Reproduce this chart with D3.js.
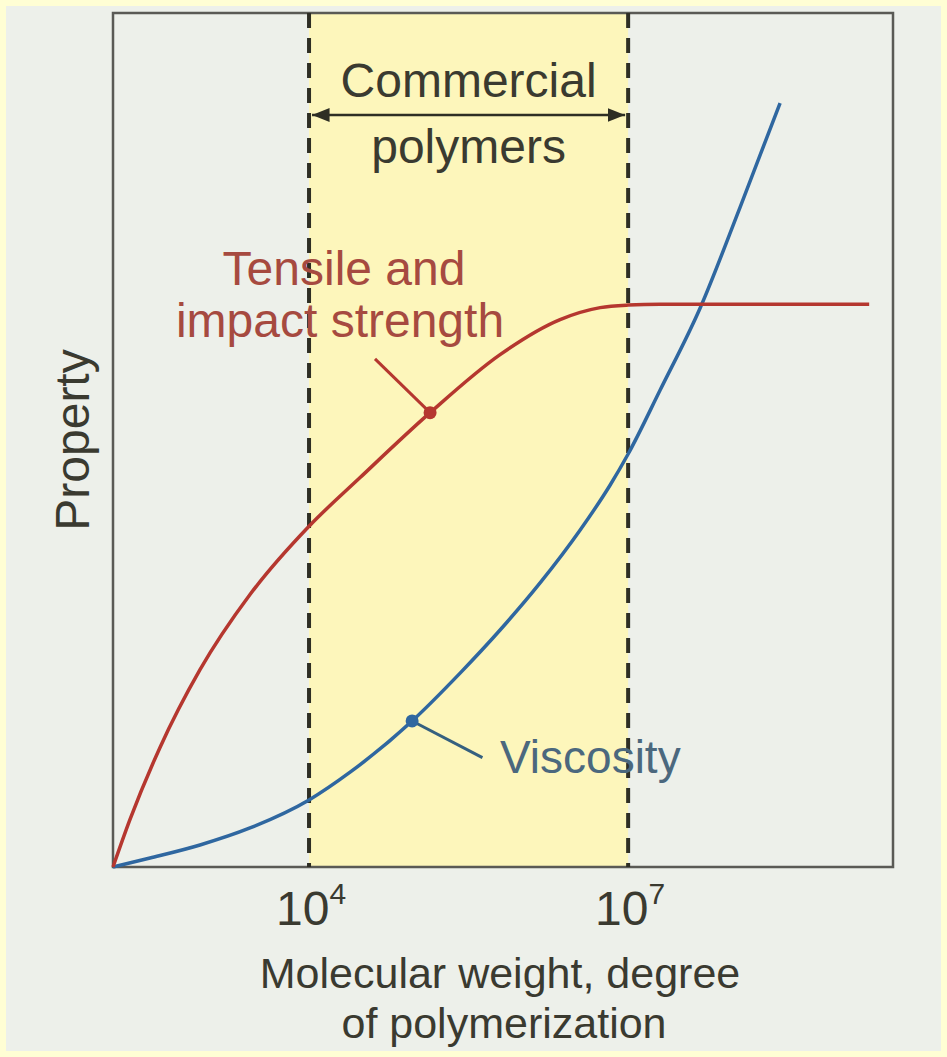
<!DOCTYPE html>
<html>
<head>
<meta charset="utf-8">
<script src="https://cdn.jsdelivr.net/npm/d3@7"></script>
<style>
  html, body { margin: 0; padding: 0; background: #fffed4; }
  svg { display: block; }
  text { font-family: "Liberation Sans", Arial, Helvetica, sans-serif; }
</style>
</head>
<body>
<script>
// ---- data (x in log10 of molecular weight, y in arbitrary property units 0-100) ----
const strengthLogMW = [2.157, 2.317, 2.599, 2.975, 3.445, 4.0, 4.48, 5.138, 5.796, 6.36, 6.737, 7.0, 7.3, 9.266];
const strengthValue = [0, 5.57, 14.0, 23.1, 31.9, 39.9, 45.6, 53.2, 60.0, 64.1, 65.5, 65.8, 65.9, 65.9];

const viscosityLogMW = [2.157, 2.505, 2.975, 3.445, 4.0, 4.386, 4.978, 5.42, 5.796, 6.172, 6.549, 6.831, 7.0, 7.301, 7.677, 8.053, 8.429];
const viscosityValue = [0, 1.05, 2.58, 4.57, 7.85, 11.1, 17.2, 22.7, 27.75, 33.26, 39.46, 44.73, 48.36, 55.85, 65.46, 77.28, 89.46];

const tickExponents = [4, 7];
const tickLabels = ["10", "10"];
const commercialRange = [4, 7];

const xDomain = [2.157, 9.49];
const yDomain = [0, 100];

// annotation markers (data units)
const strengthMarker = { x: 5.138, y: 53.2, labelX: 4.62, labelY: 59.5 };
const viscosityMarker = { x: 4.969, y: 17.1, labelX: 5.63, labelY: 12.8 };

// ---- layout ----
const W = 947, H = 1057;
const plot = { left: 113, right: 893, top: 13, bottom: 867 };

const svg = d3.select("body").append("svg").attr("width", W).attr("height", H);

svg.append("rect").attr("x", 0).attr("y", 0).attr("width", W).attr("height", H).attr("fill", "#fffed4");
svg.append("rect").attr("x", 6).attr("y", 6).attr("width", W - 12).attr("height", H - 12).attr("fill", "#edf0ea");

const x = d3.scaleLinear().domain(xDomain).range([plot.left, plot.right]);
const y = d3.scaleLinear().domain(yDomain).range([plot.bottom, plot.top]);

// commercial band
svg.append("rect")
  .attr("x", x(commercialRange[0])).attr("y", plot.top)
  .attr("width", x(commercialRange[1]) - x(commercialRange[0]))
  .attr("height", plot.bottom - plot.top)
  .attr("fill", "#fdf6bb");

// frame
svg.append("rect")
  .attr("x", plot.left).attr("y", plot.top)
  .attr("width", plot.right - plot.left).attr("height", plot.bottom - plot.top)
  .attr("fill", "none").attr("stroke", "#5a5a55").attr("stroke-width", 2.5);

// dashed boundaries
svg.selectAll("line.bound").data(commercialRange).enter().append("line")
  .attr("class", "bound")
  .attr("x1", d => x(d)).attr("x2", d => x(d))
  .attr("y1", plot.top).attr("y2", plot.bottom)
  .attr("stroke", "#2e2e24").attr("stroke-width", 4)
  .attr("stroke-dasharray", "15,10");

// arrow
const defs = svg.append("defs");
defs.append("marker").attr("id", "ah").attr("viewBox", "0 0 10 10")
  .attr("refX", 10).attr("refY", 5).attr("markerWidth", 7).attr("markerHeight", 7)
  .attr("markerUnits", "strokeWidth").attr("orient", "auto-start-reverse")
  .append("path").attr("d", "M0,1 L10,5 L0,9 Z").attr("fill", "#2e2e24");
svg.append("line")
  .attr("x1", x(commercialRange[0]) + 3).attr("x2", x(commercialRange[1]) - 3)
  .attr("y1", 115).attr("y2", 115)
  .attr("stroke", "#2e2e24").attr("stroke-width", 2.5)
  .attr("marker-start", "url(#ah)").attr("marker-end", "url(#ah)");

const fs = 48;
const darkText = "#3a3a30";
svg.append("text").attr("x", (x(4) + x(7)) / 2).attr("y", 97).attr("text-anchor", "middle")
  .attr("font-size", fs).attr("fill", darkText).text("Commercial");
svg.append("text").attr("x", (x(4) + x(7)) / 2).attr("y", 163).attr("text-anchor", "middle")
  .attr("font-size", fs).attr("fill", darkText).text("polymers");

// curves
const line = d3.line().x(d => x(d[0])).y(d => y(d[1])).curve(d3.curveMonotoneX);
const strength = strengthLogMW.map((v, i) => [v, strengthValue[i]]);
const viscosity = viscosityLogMW.map((v, i) => [v, viscosityValue[i]]);

const redC = "#b5372f", blueC = "#2f67a0";
svg.append("path").attr("d", line(viscosity)).attr("fill", "none")
  .attr("stroke", blueC).attr("stroke-width", 3.5);
svg.append("path").attr("d", line(strength)).attr("fill", "none")
  .attr("stroke", redC).attr("stroke-width", 3.5);

// markers & leaders
svg.append("line").attr("x1", x(strengthMarker.labelX)).attr("y1", y(strengthMarker.labelY))
  .attr("x2", x(strengthMarker.x)).attr("y2", y(strengthMarker.y))
  .attr("stroke", redC).attr("stroke-width", 3);
svg.append("circle").attr("cx", x(strengthMarker.x)).attr("cy", y(strengthMarker.y)).attr("r", 6.5).attr("fill", redC);

svg.append("line").attr("x1", x(viscosityMarker.labelX)).attr("y1", y(viscosityMarker.labelY))
  .attr("x2", x(viscosityMarker.x)).attr("y2", y(viscosityMarker.y))
  .attr("stroke", "#35607f").attr("stroke-width", 3);
svg.append("circle").attr("cx", x(viscosityMarker.x)).attr("cy", y(viscosityMarker.y)).attr("r", 6.5).attr("fill", blueC);

// series labels
svg.append("text").attr("x", 344).attr("y", 285).attr("text-anchor", "middle")
  .attr("font-size", fs).attr("fill", "#a64a40").text("Tensile and");
svg.append("text").attr("x", 340).attr("y", 337).attr("text-anchor", "middle")
  .attr("font-size", fs).attr("fill", "#a64a40").text("impact strength");
svg.append("text").attr("x", 500).attr("y", 773).attr("text-anchor", "start")
  .attr("font-size", 46).attr("fill", "#4b687e").text("Viscosity");

// tick labels
tickExponents.forEach((e, i) => {
  const t = svg.append("text").attr("x", x(e) + 2).attr("y", 925).attr("text-anchor", "middle")
    .attr("font-size", 48).attr("fill", darkText);
  t.append("tspan").text(tickLabels[i]);
  t.append("tspan").attr("dy", -21).attr("font-size", 30).text(String(e));
});

// axis titles
svg.append("text").attr("x", 500).attr("y", 988).attr("text-anchor", "middle")
  .attr("font-size", 43).attr("fill", darkText).text("Molecular weight, degree");
svg.append("text").attr("x", 504).attr("y", 1038).attr("text-anchor", "middle")
  .attr("font-size", 43).attr("fill", darkText).text("of polymerization");

svg.append("text").attr("transform", "translate(89,440) rotate(-90)").attr("text-anchor", "middle")
  .attr("font-size", 48).attr("fill", darkText).text("Property");
</script>
</body>
</html>
